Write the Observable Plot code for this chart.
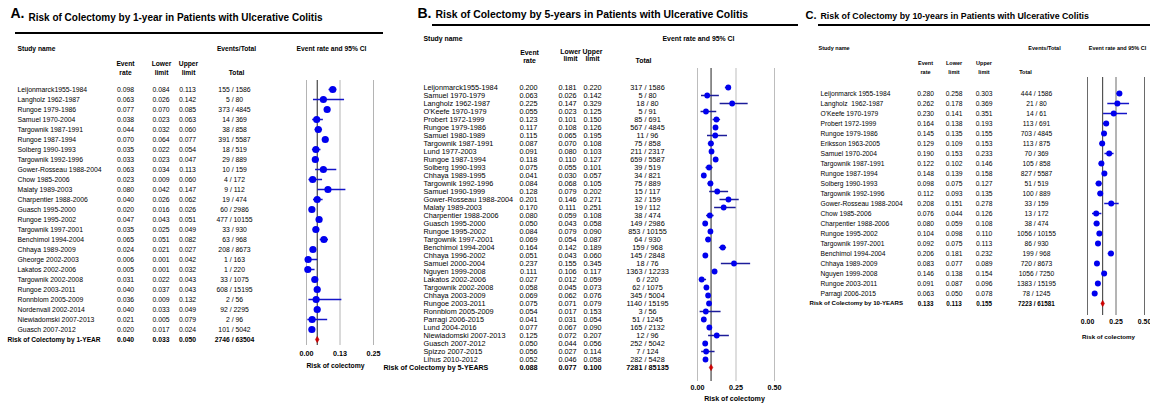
<!DOCTYPE html>
<html><head><meta charset="utf-8">
<script src="https://cdn.jsdelivr.net/npm/d3@7"></script>
<script src="https://cdn.jsdelivr.net/npm/@observablehq/plot@0.6"></script>
<style>
body{margin:0;background:#fff;}
#page{position:relative;width:1150px;height:405px;overflow:hidden;font-family:"Liberation Sans",Arial,sans-serif;}
.panel{position:absolute;top:0;}
.hr{position:absolute;background:#000;}
</style></head><body><div id="page"></div>
<script>
// ---------- Panel A: 1-year ----------
const namesA = ["Leijonmarck1955-1984","Langholz 1962-1987","Rungoe 1979-1986","Samuel 1970-2004","Targownik 1987-1991","Rungoe 1987-1994","Solberg 1990-1993","Targownik 1992-1996","Gower-Rosseau 1988-2004","Chow 1985-2006","Malaty 1989-2003","Charpentier 1988-2006","Guasch 1995-2000","Rungoe 1995-2002","Targownik 1997-2001","Benchimol 1994-2004","Chhaya 1989-2009","Gheorge 2002-2003","Lakatos 2002-2006","Targownik 2002-2008","Rungoe 2003-2011","Ronnblom 2005-2009","Nordenvall 2002-2014","Niewiadomski 2007-2013","Guasch 2007-2012"];
const rateA  = [0.098,0.063,0.077,0.038,0.044,0.070,0.035,0.033,0.063,0.023,0.080,0.040,0.020,0.047,0.035,0.065,0.024,0.006,0.005,0.031,0.040,0.036,0.040,0.021,0.020];
const lowerA = [0.084,0.026,0.070,0.023,0.032,0.064,0.022,0.023,0.034,0.009,0.042,0.026,0.016,0.043,0.025,0.051,0.021,0.001,0.001,0.022,0.037,0.009,0.033,0.005,0.017];
const upperA = [0.113,0.142,0.085,0.063,0.060,0.077,0.054,0.047,0.113,0.060,0.147,0.062,0.026,0.051,0.049,0.082,0.027,0.042,0.032,0.043,0.043,0.132,0.049,0.079,0.024];
const eventsA = [155,5,373,14,38,391,18,29,10,4,9,19,60,477,33,63,208,1,1,33,608,2,92,2,101];
const totalsA = [1586,80,4845,369,858,5587,519,889,159,172,112,474,2986,10155,930,968,8673,163,220,1075,15195,56,2295,96,5042];
const summaryA = {name: "Risk of Colectomy by 1-YEAR", rate: 0.040, lower: 0.033, upper: 0.050, events: 2746, total: 63504};
const ticksA = [0, 0.125, 0.25];
const tickLabelsA = ["0.00", "0.13", "0.25"];

// ---------- Panel B: 5-years ----------
const namesB = ["Leijonmarck1955-1984","Samuel 1970-1979","Langholz 1962-1987","O'Keefe 1970-1979","Probert 1972-1999","Rungoe 1979-1986","Samuel 1980-1989","Targownik 1987-1991","Lund 1977-2003","Rungoe 1987-1994","Solberg 1990-1993","Chhaya 1989-1995","Targownik 1992-1996","Samuel 1990-1999","Gower-Rosseau 1988-2004","Malaty 1989-2003","Charpentier 1988-2006","Guasch 1995-2000","Rungoe 1995-2002","Targownik 1997-2001","Benchimol 1994-2004","Chhaya 1996-2002","Samuel 2000-2004","Nguyen 1999-2008","Lakatos 2002-2006","Targownik 2002-2008","Chhaya 2003-2009","Rungoe 2003-2011","Ronnblom 2005-2009","Parragi 2006-2015","Lund 2004-2016","Niewiadomski 2007-2013","Guasch 2007-2012","Spizzo 2007-2015","Lihus 2010-2012"];
const rateB  = [0.200,0.063,0.225,0.055,0.123,0.117,0.115,0.087,0.091,0.118,0.075,0.041,0.084,0.128,0.201,0.170,0.080,0.050,0.084,0.069,0.164,0.051,0.237,0.111,0.027,0.058,0.069,0.075,0.054,0.041,0.077,0.125,0.050,0.056,0.052];
const lowerB = [0.181,0.026,0.147,0.023,0.101,0.108,0.065,0.070,0.080,0.110,0.055,0.030,0.068,0.079,0.146,0.111,0.059,0.043,0.079,0.054,0.142,0.043,0.155,0.106,0.012,0.045,0.062,0.071,0.017,0.031,0.067,0.072,0.044,0.027,0.046];
const upperB = [0.220,0.142,0.329,0.125,0.150,0.126,0.195,0.108,0.103,0.127,0.101,0.057,0.105,0.202,0.271,0.251,0.108,0.058,0.090,0.087,0.189,0.060,0.345,0.117,0.059,0.073,0.076,0.079,0.153,0.054,0.090,0.207,0.056,0.114,0.058];
const eventsB = [317,5,18,5,85,567,11,75,211,659,39,34,75,15,32,19,38,149,853,64,159,145,18,1363,6,62,345,1140,3,51,165,12,252,7,282];
const totalsB = [1586,80,80,91,691,4845,96,858,2317,5587,519,821,889,117,159,112,474,2986,10155,930,968,2848,76,12233,220,1075,5004,15195,56,1245,2132,96,5042,124,5428];
const summaryB = {name: "Risk of Colectomy by 5-YEARS", rate: 0.088, lower: 0.077, upper: 0.100, events: 7281, total: 85135};
const ticksB = [0, 0.25, 0.5];
const tickLabelsB = ["0.00", "0.25", "0.50"];

// ---------- Panel C: 10-years ----------
const namesC = ["Leijonmarck 1955-1984","Langholz  1962-1987","O'Keefe 1970-1979","Probert 1972-1999","Rungoe 1979-1986","Eriksson 1963-2005","Samuel 1970-2004","Targownik 1987-1991","Rungoe 1987-1994","Solberg 1990-1993","Targownik 1992-1996","Gower-Rosseau 1988-2004","Chow 1985-2006","Charpentier 1988-2006","Rungoe 1995-2002","Targownik 1997-2001","Benchimol 1994-2004","Chhaya 1989-2009","Nguyen 1999-2008","Rungoe 2003-2011","Parragi 2006-2015"];
const rateC  = [0.280,0.262,0.230,0.164,0.145,0.129,0.190,0.122,0.148,0.098,0.112,0.208,0.076,0.080,0.104,0.092,0.206,0.083,0.146,0.091,0.063];
const lowerC = [0.258,0.178,0.141,0.138,0.135,0.109,0.153,0.102,0.139,0.075,0.093,0.151,0.044,0.059,0.098,0.075,0.181,0.077,0.138,0.087,0.050];
const upperC = [0.303,0.369,0.351,0.193,0.155,0.153,0.233,0.146,0.158,0.127,0.135,0.278,0.126,0.108,0.110,0.113,0.232,0.089,0.154,0.096,0.078];
const eventsC = [444,21,14,113,703,113,70,105,827,51,100,33,13,38,1056,86,199,720,1056,1383,78];
const totalsC = [1586,80,61,691,4845,875,369,858,5587,519,889,159,172,474,10155,930,968,8673,7250,15195,1245];
const summaryC = {name: "Risk of Colectomy by 10-YEARS", rate: 0.133, lower: 0.113, upper: 0.155, events: 7223, total: 61581};
const ticksC = [0, 0.25, 0.5];
const tickLabelsC = ["0.00", "0.25", "0.50"];

// ---------- layout ----------
const FONT = "Liberation Sans, Arial, sans-serif";
const H = 405;
const fmt3 = d3.format(".3f");

const layoutA = {
  left: 0, width: 380,
  letter: "A.", letterX: 10, letterY: 13, letterSize: 14,
  title: "Risk of Colectomy by 1-year in Patients with Ulcerative Colitis", titleX: 28, titleY: 17, titleSize: 10,
  hdrSize: 6.7, rowSize: 6.85, sumSize: 6.6,
  headers: [["Study name",17,48,"start"],["Events/Total",236,48],["Event rate and 95% CI",331,48],["Event",125,63],["rate",125,72],["Lower",161,63],["limit",161,72],["Upper",188,63],["limit",188,72],["Total",236,72]],
  cols: {name: 17, rate: 125, lower: 160.5, upper: 187, total: 234}, sumX: 7,
  yTop: 87, ySum: 340.5,
  domain: [0, 0.25], x0: 306, x1: 373, forestTop: 80, forestBottom: 345,
  ticks: ticksA, tickLabels: tickLabelsA, tickY: 353, tickSize: 7.2,
  axisLabel: "Risk of colectomy", axisLabelX: 335, axisLabelY: 365, axisLabelSize: 6.8,
  r: 3.6, gridColor: "#b4b4b4", ciColor: "#1414c8", sumLine: "#222"
};
const layoutB = {
  left: 380, width: 420,
  letter: "B.", letterX: 417, letterY: 13, letterSize: 14,
  title: "Risk of Colectomy by 5-years in Patients with Ulcerative Colitis", titleX: 435, titleY: 14, titleSize: 10.45,
  hdrSize: 6.9, rowSize: 7.3, sumSize: 7.1,
  headers: [["Study name",423,38,"start"],["Event rate and 95% CI",698,38],["Event",529,52.5],["rate",529,60.5],["Lower",570,51],["limit",570,58.5],["Upper",592,51],["limit",592,58.5],["Total",643,60.5]],
  cols: {name: 423, rate: 528, lower: 567, upper: 592, total: 647}, sumX: 383,
  yTop: 75, ySum: 378,
  domain: [0, 0.5], x0: 697, x1: 774, forestTop: 68, forestBottom: 381,
  ticks: ticksB, tickLabels: tickLabelsB, tickY: 387, tickSize: 7.2,
  axisLabel: "Risk of colectomy", axisLabelX: 734, axisLabelY: 398, axisLabelSize: 7.1,
  r: 2.9, gridColor: "#bdbdbd", ciColor: "#1c1c9a", sumLine: "#222"
};
const layoutC = {
  left: 800, width: 350,
  letter: "C.", letterX: 805, letterY: 15, letterSize: 11,
  title: "Risk of Colectomy by 10-years in Patients with Ulcerative Colitis", titleX: 820, titleY: 15.5, titleSize: 8.8,
  hdrSize: 5.5, rowSize: 6.7, sumSize: 6.1,
  headers: [["Study name",818,48,"start"],["Events/Total",1044,48],["Event rate and 95% CI",1117,48],["Event",925,63],["rate",925,72],["Lower",953.5,63],["limit",953.5,72],["Upper",983.5,63],["limit",983.5,72],["Total",1025,72]],
  cols: {name: 820, rate: 925, lower: 953.5, upper: 983.5, total: 1036}, sumX: 809,
  yTop: 87, ySum: 308,
  domain: [0, 0.5], x0: 1087, x1: 1144, forestTop: 77, forestBottom: 315,
  ticks: ticksC, tickLabels: tickLabelsC, tickY: 321, tickSize: 6.9,
  axisLabel: "Risk of colectomy", axisLabelX: 1108, axisLabelY: 337, axisLabelSize: 6.2,
  r: 3, gridColor: "#6a6a6a", ciColor: "#1414c8", sumLine: "#333"
};

function drawPanel(L, names, rate, lower, upper, events, totals, summary) {
  const X = v => v - L.left;
  const rows = names.map((name, i) => ({name, rate: rate[i], lower: lower[i], upper: upper[i], ev: events[i], tot: totals[i]}));
  const sum = {name: summary.name, rate: summary.rate, lower: summary.lower, upper: summary.upper, ev: summary.events, tot: summary.total};
  const keys = [...names, sum.name];
  const mt = L.forestTop, mb = H - L.forestBottom;
  const totalText = d => `${d.ev} / ${d.tot}`;

  const hdr = ([t, x, y, anchor]) => Plot.text([t], {text: d => d, frameAnchor: "top-left", dx: X(x), dy: y - mt,
    textAnchor: anchor || "middle", lineAnchor: "middle", fontSize: L.hdrSize, fontWeight: "bold", fill: "#000"});
  const column = (data, text, x, opts = {}) => Plot.text(data, {y: "name", text, frameAnchor: "left", dx: X(x),
    textAnchor: "middle", lineAnchor: "middle", fontSize: L.rowSize, fill: "#000", ...opts});
  const bold = {fontWeight: "bold", fontSize: L.sumSize + 0.2};

  const marks = [
    Plot.ruleX(L.ticks, {stroke: L.gridColor, strokeWidth: 1}),
    Plot.ruleX([sum.rate], {stroke: L.sumLine, strokeWidth: 1}),
    Plot.ruleY(rows, {y: "name", x1: "lower", x2: "upper", stroke: L.ciColor, strokeWidth: 1.5}),
    Plot.dot(rows, {x: "rate", y: "name", r: L.r, fill: "#0000ee", stroke: "none"}),
    Plot.dot([sum], {x: "rate", y: "name", symbol: "diamond", r: 1.9, fill: "#d40000", stroke: "#b00000", strokeWidth: 0.5}),
    Plot.axisX(L.ticks, {anchor: "bottom", tickSize: 0, tickPadding: L.tickY - L.forestBottom, lineAnchor: "middle",
      tickFormat: d => L.tickLabels[L.ticks.indexOf(d)], fontSize: L.tickSize, fontWeight: "bold", label: null}),
    Plot.text([L.axisLabel], {text: d => d, frameAnchor: "bottom-left", dx: X(L.axisLabelX), dy: L.axisLabelY - L.forestBottom,
      textAnchor: "middle", lineAnchor: "middle", fontSize: L.axisLabelSize, fontWeight: "bold", fill: "#000"}),
    // titles
    Plot.text([L.letter], {text: d => d, frameAnchor: "top-left", dx: X(L.letterX), dy: L.letterY - mt, textAnchor: "start",
      lineAnchor: "middle", fontSize: L.letterSize, fontWeight: "bold", fill: "#000"}),
    Plot.text([L.title], {text: d => d, frameAnchor: "top-left", dx: X(L.titleX), dy: L.titleY - mt, textAnchor: "start",
      lineAnchor: "middle", fontSize: L.titleSize, fontWeight: "bold", fill: "#000"}),
    ...L.headers.map(hdr),
    // table rows
    column(rows, "name", L.cols.name, {textAnchor: "start"}),
    column(rows, d => fmt3(d.rate), L.cols.rate),
    column(rows, d => fmt3(d.lower), L.cols.lower),
    column(rows, d => fmt3(d.upper), L.cols.upper),
    column(rows, totalText, L.cols.total),
    // summary row
    column([sum], "name", L.sumX, {textAnchor: "start", fontWeight: "bold", fontSize: L.sumSize}),
    column([sum], d => fmt3(d.rate), L.cols.rate, bold),
    column([sum], d => fmt3(d.lower), L.cols.lower, bold),
    column([sum], d => fmt3(d.upper), L.cols.upper, bold),
    column([sum], totalText, L.cols.total, bold)
  ];

  const svg = Plot.plot({
    width: L.width, height: H,
    marginTop: mt, marginBottom: mb, marginLeft: 0, marginRight: 0,
    x: {domain: L.domain, range: [X(L.x0), X(L.x1)]},
    y: {type: "point", domain: keys, range: [L.yTop, L.ySum], padding: 0, axis: null},
    style: {background: "transparent", fontFamily: FONT, overflow: "visible", color: "#000"},
    marks
  });
  const div = document.createElement("div");
  div.className = "panel";
  div.style.left = L.left + "px";
  div.style.width = L.width + "px";
  div.appendChild(svg);
  return div;
}

const page = document.getElementById("page");
page.appendChild(drawPanel(layoutA, namesA, rateA, lowerA, upperA, eventsA, totalsA, summaryA));
page.appendChild(drawPanel(layoutB, namesB, rateB, lowerB, upperB, eventsB, totalsB, summaryB));
page.appendChild(drawPanel(layoutC, namesC, rateC, lowerC, upperC, eventsC, totalsC, summaryC));

// heavy title rules
[[15, 31.7, 368, 2.7], [432, 24, 366, 2], [818, 24.2, 332, 1.6]].forEach(([l, t, w, h]) => {
  const d = document.createElement("div");
  d.className = "hr";
  Object.assign(d.style, {left: l + "px", top: t + "px", width: w + "px", height: h + "px"});
  page.appendChild(d);
});
</script>
</body></html>
